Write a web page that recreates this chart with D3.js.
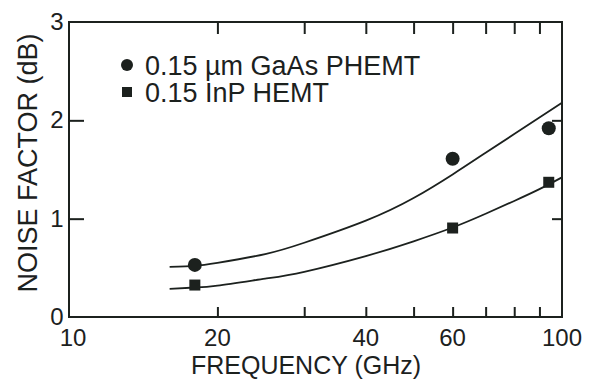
<!DOCTYPE html>
<html>
<head>
  <script src="https://d3js.org/d3.v7.min.js"></script>
  <style>
    body { margin: 0; padding: 0; background: white; }
    svg { display: block; font-family: 'Liberation Sans', Arial, sans-serif; }
    .axis path, .axis line { stroke: #1c211e; stroke-width: 2; }
    .axis text { fill: #1c211e; }
  </style>
</head>
<body>
  <svg id="canvas" width="597" height="380"></svg>
  <script>
    // measured points (GHz, dB)
    const freqPts = [18, 60, 94];
    const gaasPts = [0.53, 1.61, 1.92];
    const inpPts = [0.325, 0.905, 1.37];

    // fitted curves
    const curveFreq = [16, 18, 20, 25, 30, 40, 50, 60, 70, 80, 90, 100];
    const gaasCurve = [0.51, 0.52, 0.55, 0.64, 0.755, 0.98, 1.21, 1.45, 1.67, 1.86, 2.03, 2.18];
    const inpCurve = [0.285, 0.30, 0.32, 0.39, 0.46, 0.62, 0.77, 0.91, 1.05, 1.18, 1.30, 1.42];

    const xLabels = [10, 20, 40, 60, 100];
    const xMinor = [20, 30, 40, 50, 60, 70, 80, 90];
    const yLabels = [0, 1, 2, 3];
    const yMinor = [1, 2];
    const legendNames = ["0.15 \u00b5m GaAs PHEMT", "0.15 InP HEMT"];

    const ink = "#1c211e";
    const svg = d3.select("#canvas");
    const plot = { left: 69, right: 562, top: 22, bottom: 317 };

    const x = d3.scaleLog().domain([10, 100]).range([plot.left, plot.right]);
    const y = d3.scaleLinear().domain([0, 3]).range([plot.bottom, plot.top]);

    // frame
    svg.append("rect")
      .attr("x", plot.left).attr("y", plot.top)
      .attr("width", plot.right - plot.left).attr("height", plot.bottom - plot.top)
      .attr("fill", "none").attr("stroke", ink).attr("stroke-width", 2);

    // inward ticks
    svg.append("g").attr("class", "axis")
      .attr("transform", `translate(0,${plot.bottom})`)
      .call(d3.axisBottom(x).tickValues(xMinor).tickSize(-10).tickFormat(""))
      .call(g => g.select(".domain").remove());
    svg.append("g").attr("class", "axis")
      .attr("transform", `translate(0,${plot.top})`)
      .call(d3.axisTop(x).tickValues(xMinor).tickSize(-12).tickFormat(""))
      .call(g => g.select(".domain").remove());
    svg.append("g").attr("class", "axis")
      .attr("transform", `translate(${plot.left},0)`)
      .call(d3.axisLeft(y).tickValues(yMinor).tickSize(-15).tickFormat(""))
      .call(g => g.select(".domain").remove());
    svg.append("g").attr("class", "axis")
      .attr("transform", `translate(${plot.right},0)`)
      .call(d3.axisRight(y).tickValues(yMinor).tickSize(-10).tickFormat(""))
      .call(g => g.select(".domain").remove());

    // tick labels
    svg.append("g").selectAll("text")
      .data(xLabels).join("text")
      .attr("x", d => x(d) + (d === 10 ? 4 : 0))
      .attr("y", 346)
      .attr("text-anchor", "middle")
      .attr("font-size", 24)
      .attr("fill", ink)
      .text(d => d);
    svg.append("g").selectAll("text")
      .data(yLabels).join("text")
      .attr("x", 57)
      .attr("y", d => y(d) + 8)
      .attr("text-anchor", "middle")
      .attr("font-size", 24)
      .attr("fill", ink)
      .text(d => d);

    // axis titles
    svg.append("text")
      .attr("x", 306).attr("y", 374)
      .attr("text-anchor", "middle")
      .attr("font-size", 25)
      .attr("fill", ink)
      .text("FREQUENCY (GHz)");
    svg.append("text")
      .attr("transform", "translate(37,163) rotate(-90)")
      .attr("text-anchor", "middle")
      .attr("font-size", 27)
      .attr("fill", ink)
      .text("NOISE FACTOR (dB)");

    // curves
    const line = d3.line()
      .x(d => x(d[0])).y(d => y(d[1]))
      .curve(d3.curveNatural);
    [gaasCurve, inpCurve].forEach(vals => {
      svg.append("path")
        .datum(curveFreq.map((f, i) => [f, vals[i]]))
        .attr("d", line)
        .attr("fill", "none")
        .attr("stroke", ink)
        .attr("stroke-width", 1.8);
    });

    // markers
    svg.append("g").selectAll("circle")
      .data(freqPts.map((f, i) => [f, gaasPts[i]])).join("circle")
      .attr("cx", d => x(d[0])).attr("cy", d => y(d[1]))
      .attr("r", 7)
      .attr("fill", ink);
    svg.append("g").selectAll("rect")
      .data(freqPts.map((f, i) => [f, inpPts[i]])).join("rect")
      .attr("x", d => x(d[0]) - 5.5).attr("y", d => y(d[1]) - 5.5)
      .attr("width", 11).attr("height", 11)
      .attr("fill", ink);

    // legend
    const lg = svg.append("g").attr("transform", "translate(127,65)");
    legendNames.forEach((name, i) => {
      const row = lg.append("g").attr("transform", `translate(0,${i * 27})`);
      if (i === 0) {
        row.append("circle").attr("r", 6).attr("fill", ink);
      } else {
        row.append("rect").attr("x", -5).attr("y", -5)
          .attr("width", 10).attr("height", 10).attr("fill", ink);
      }
      row.append("text")
        .attr("x", 18).attr("y", 10)
        .attr("font-size", 27)
        .attr("fill", ink)
        .text(name);
    });
  </script>
</body>
</html>
